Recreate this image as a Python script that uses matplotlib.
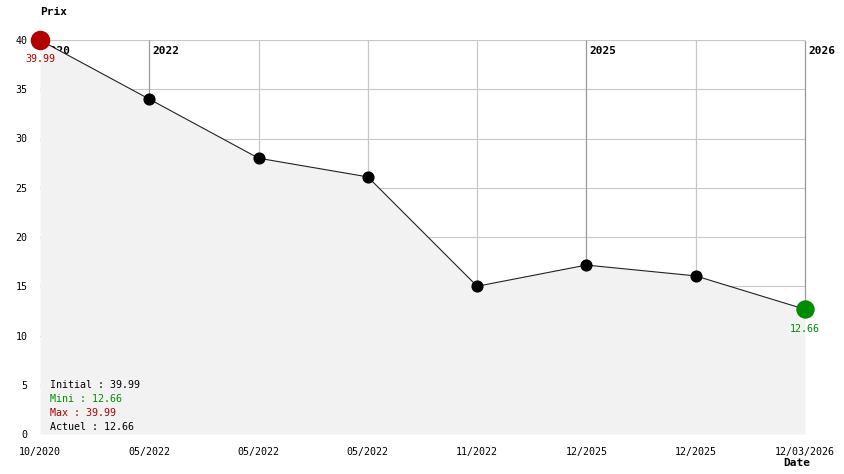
import matplotlib
matplotlib.use("Agg")
import matplotlib.pyplot as plt

dates = ["10/2020", "05/2022", "05/2022", "05/2022", "11/2022",
         "12/2025", "12/2025", "12/03/2026"]
prix = [39.99, 34.0, 28.0, 26.1, 15.0, 17.15, 16.05, 12.66]
yticks = [0, 5, 10, 15, 20, 25, 30, 35, 40]

RED = "#b00000"
GREEN = "#008c00"
MONO = "DejaVu Sans Mono"

fig = plt.figure(figsize=(8.44, 4.74), dpi=100)
ax = fig.add_axes([40 / 844, 40 / 474, 765 / 844, 394 / 474])
x = list(range(len(prix)))

# grille
for v in yticks[1:]:
    ax.axhline(v, color="#c8c8c8", lw=0.8, zorder=1)
annees = []
prev = None
for i, d in enumerate(dates):
    an = d[-4:]
    if an != prev:
        annees.append((i, an))
    prev = an
years_idx = [i for i, _ in annees]
for i in x:
    col = "#999999" if i in years_idx else "#c8c8c8"
    ax.vlines(i, prix[i], 40, color=col, lw=0.9, zorder=1, clip_on=False)
for i, an in annees:
    ax.text(i + 0.03, 38.9, an, fontsize=8, fontweight="bold", family=MONO,
            va="center", ha="left", zorder=1)

ax.fill_between(x, prix, 0, color="#f2f2f2", lw=0, zorder=2)
ax.plot(x, prix, color="#222222", lw=0.8, zorder=3)
ax.scatter(x[1:-1], prix[1:-1], s=60, color="black", zorder=4)
ax.scatter([x[0]], [prix[0]], s=170, color=RED, zorder=5)
ax.scatter([x[-1]], [prix[-1]], s=150, color=GREEN, zorder=5)
ax.text(x[0], prix[0] - 1.9, f"{prix[0]:.2f}", color=RED, fontsize=7.2,
        family=MONO, ha="center", va="center", zorder=6)
ax.text(x[-1], prix[-1] - 2.0, f"{prix[-1]:.2f}", color=GREEN, fontsize=7.2,
        family=MONO, ha="center", va="center", zorder=6)

stats = [("Initial : %.2f" % prix[0], "black"),
         ("Mini : %.2f" % min(prix), GREEN),
         ("Max : %.2f" % max(prix), RED),
         ("Actuel : %.2f" % prix[-1], "black")]
for k, (t, c) in enumerate(stats):
    ax.text(0.09, 5.0 - k * 1.42, t, color=c, fontsize=7.2, family=MONO,
            ha="left", va="center", zorder=6)

ax.set_xlim(0, len(prix) - 1)
ax.set_ylim(0, 40)
ax.set_xticks(x)
ax.set_xticklabels(dates)
ax.set_yticks(yticks)
for s in ax.spines.values():
    s.set_visible(False)
ax.tick_params(axis="x", length=0, pad=9, labelsize=7.2)
ax.tick_params(axis="y", length=0, pad=9, labelsize=7.2)
for lab in ax.get_xticklabels() + ax.get_yticklabels():
    lab.set_family(MONO)
for c in ax.collections:
    c.set_clip_on(False)

fig.text(40 / 844, 1 - 12 / 474, "Prix", fontsize=8, fontweight="bold",
         family=MONO, ha="left", va="center")
fig.text(797 / 844, 1 - 463 / 474, "Date", fontsize=8, fontweight="bold",
         family=MONO, ha="center", va="center")

fig.savefig("out.png", dpi=100)
